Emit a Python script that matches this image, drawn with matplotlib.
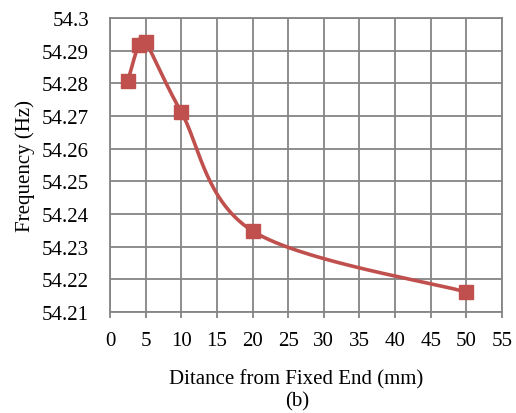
import numpy as np
import matplotlib
matplotlib.use("Agg")
import matplotlib.pyplot as plt

distance = [2.5, 4.0, 5.0, 10.0, 20.0, 50.0]
frequency = [54.2807, 54.2916, 54.2926, 54.2712, 54.2348, 54.2161]
x_ticks = [0, 5, 10, 15, 20, 25, 30, 35, 40, 45, 50, 55]
y_ticks = [54.21, 54.22, 54.23, 54.24, 54.25, 54.26, 54.27, 54.28, 54.29, 54.3]
y_tick_labels = ["54.21", "54.22", "54.23", "54.24", "54.25", "54.26", "54.27", "54.28", "54.29", "54.3"]

def smooth(xs, ys, n=60):
    xs = np.asarray(xs, float); ys = np.asarray(ys, float)
    px = np.concatenate([[xs[0]], xs, [xs[-1]]])
    py = np.concatenate([[ys[0]], ys, [ys[-1]]])
    ox, oy = [], []
    for i in range(1, len(px) - 2):
        p0 = np.array([px[i - 1], py[i - 1]]); p1 = np.array([px[i], py[i]])
        p2 = np.array([px[i + 1], py[i + 1]]); p3 = np.array([px[i + 2], py[i + 2]])
        c1 = p1 + (p2 - p0) / 6.0
        c2 = p2 - (p3 - p1) / 6.0
        t = np.linspace(0, 1, n)[:, None]
        b = (1 - t) ** 3 * p1 + 3 * (1 - t) ** 2 * t * c1 + 3 * (1 - t) * t ** 2 * c2 + t ** 3 * p2
        ox.extend(b[:, 0]); oy.extend(b[:, 1])
    return np.array(ox), np.array(oy)

plt.rcParams['font.family'] = ['Liberation Serif', 'DejaVu Serif']
fig = plt.figure(figsize=(5.16, 4.14), dpi=100)
ax = fig.add_axes([110 / 516, 1 - 313 / 414, 392 / 516, 294 / 414])

fs = 15
grid_c = '#858585'
sx, sy = smooth(distance, frequency)
ax.plot(sx, sy, color='#C0504D', lw=2.6, zorder=3, solid_capstyle='round')
ax.plot(distance, frequency, ls='none', marker='s', ms=10.5, color='#C0504D', zorder=4)

ax.set_xlim(0, 55)
ax.set_ylim(54.21, 54.3)
ax.set_xticks(x_ticks)
ax.set_yticks(y_ticks)
ax.set_yticklabels(y_tick_labels)
ax.grid(True, color=grid_c, lw=1.3)
ax.set_axisbelow(True)
for s in ax.spines.values():
    s.set_color(grid_c)
    s.set_linewidth(1.3)
ax.tick_params(axis='x', length=4, width=1.3, color=grid_c, labelsize=fs, pad=10)
ax.tick_params(axis='y', length=0, labelsize=fs, pad=15)
fig.text(25 / 516, 1 - 166 / 414, 'Frequency (Hz)', rotation=90, ha='center', va='center', fontsize=fs)
fig.text(296 / 516, 1 - 380 / 414, 'Ditance from Fixed End (mm)', ha='center', va='center', fontsize=fs)
fig.text(297 / 516, 1 - 402 / 414, '(b)', ha='center', va='center', fontsize=fs)
fig.savefig('out.png', dpi=100)
